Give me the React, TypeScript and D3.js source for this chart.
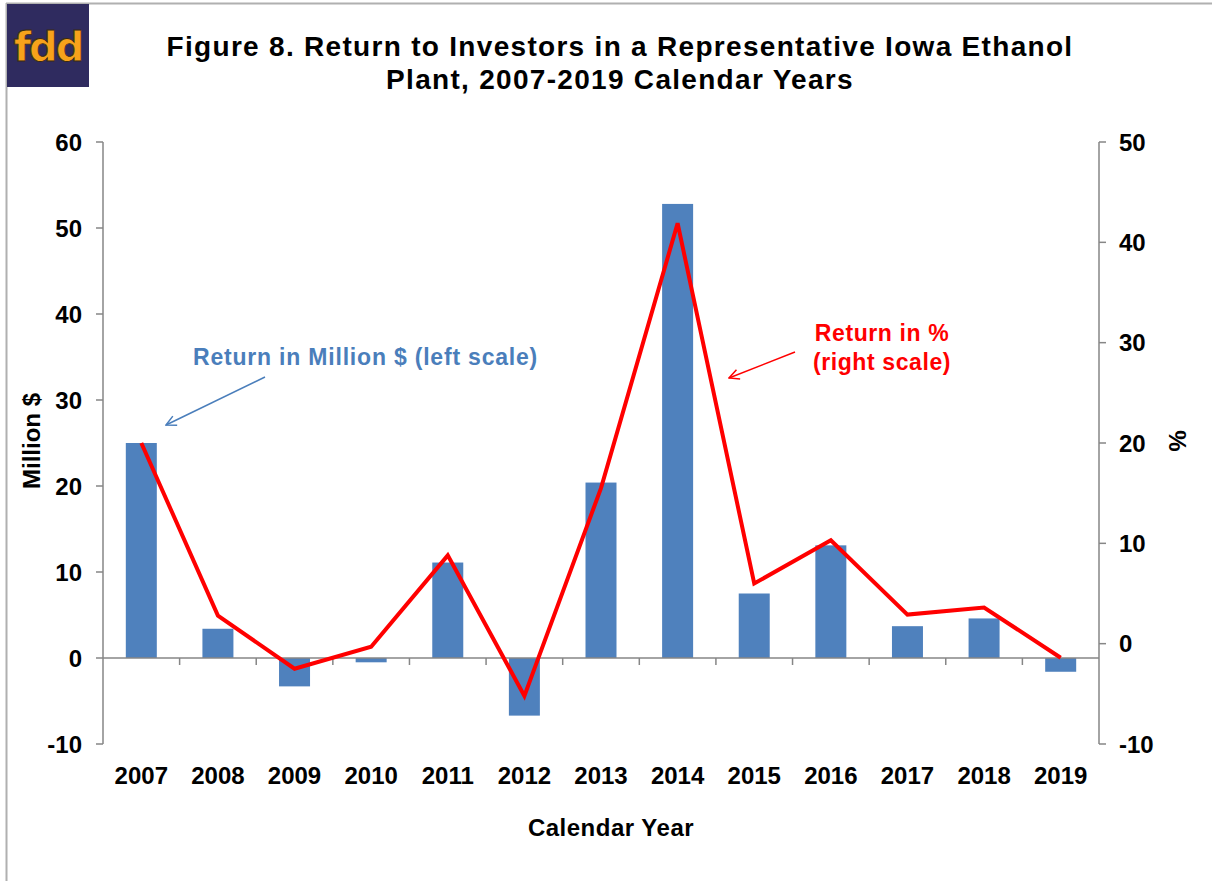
import React from "react";
import * as d3 from "d3";

const years = ["2007","2008","2009","2010","2011","2012","2013","2014","2015","2016","2017","2018","2019"];
const returnMillion = [25.0, 3.4, -3.3, -0.5, 11.1, -6.7, 20.4, 52.8, 7.5, 13.1, 3.7, 4.6, -1.6];
const returnPct = [20.0, 2.8, -2.5, -0.3, 8.8, -5.2, 15.5, 41.9, 6.0, 10.3, 2.9, 3.6, -1.4];
const leftTicks = [-10, 0, 10, 20, 30, 40, 50, 60];
const rightTicks = [-10, 0, 10, 20, 30, 40, 50];

const W = 1212, H = 881;
const plotL = 103, plotR = 1099, plotT = 142, plotB = 744;
const FONT = "'Liberation Sans', Arial, sans-serif";
const axisColor = "#868686";

export default function App() {
  const xb = d3.scaleBand<string>().domain(years).range([plotL, plotR]);
  const yL = d3.scaleLinear().domain([-10, 60]).range([plotB, plotT]);
  const yR = d3.scaleLinear().domain([-10, 50]).range([plotB, plotT]);
  const cx = (yr: string) => (xb(yr) as number) + xb.bandwidth() / 2;
  const line = d3.line<number>()
    .x((_, i) => cx(years[i]))
    .y((d) => yR(d));
  const boundaries = years.slice(1).map((y) => xb(y) as number);
  const bw = 31;

  return (
    <svg width={W} height={H} style={{ position: "absolute", left: 0, top: 0, background: "#fff" }} fontFamily={FONT}>
      <defs>
        <marker id="arrB" viewBox="0 0 12 12" refX="11" refY="6" markerWidth="12" markerHeight="12" markerUnits="userSpaceOnUse" orient="auto">
          <path d="M1,1 L11,6 L1,11" fill="none" stroke="#4a7ebb" strokeWidth="1.5" />
        </marker>
        <marker id="arrR" viewBox="0 0 12 12" refX="11" refY="6" markerWidth="12" markerHeight="12" markerUnits="userSpaceOnUse" orient="auto">
          <path d="M1,1 L11,6 L1,11" fill="none" stroke="#ff0000" strokeWidth="1.5" />
        </marker>
      </defs>
      <rect x={0} y={0} width={W} height={H} fill="#fff" />
      {/* border */}
      <line x1={6} y1={3.5} x2={W} y2={3.5} stroke="#b0b0b0" strokeWidth={2} />
      <line x1={6.5} y1={3} x2={6.5} y2={H} stroke="#b0b0b0" strokeWidth={2} />
      {/* logo */}
      <rect x={7} y={4} width={82} height={83} fill="#2f2b5f" />
      <text x={48} y={61} textAnchor="middle" fontFamily="'DejaVu Sans', sans-serif" fontWeight="bold" fontSize={40}
        fill="#f7a21b" stroke="#3a2a10" strokeWidth={0.8} letterSpacing={-2}>fdd</text>
      {/* title */}
      <text x={620} y={56} textAnchor="middle" fontWeight="bold" fontSize={28} letterSpacing={1.3} fill="#000">Figure 8. Return to Investors in a Representative Iowa Ethanol</text>
      <text x={620} y={89} textAnchor="middle" fontWeight="bold" fontSize={28} letterSpacing={1.3} fill="#000">Plant, 2007-2019 Calendar Years</text>

      {/* bars */}
      {years.map((yr, i) => {
        const v = returnMillion[i];
        const y0 = yL(0), y1 = yL(v);
        return <rect key={yr} x={cx(yr) - bw / 2} y={Math.min(y0, y1)} width={bw} height={Math.abs(y1 - y0)} fill="#4f81bd" />;
      })}

      {/* left axis */}
      <line x1={plotL} y1={plotT} x2={plotL} y2={plotB} stroke={axisColor} strokeWidth={1.5} />
      {leftTicks.map((t) => (
        <g key={"l" + t}>
          <line x1={plotL - 7} x2={plotL} y1={yL(t)} y2={yL(t)} stroke={axisColor} strokeWidth={1.5} />
          <text x={82} y={yL(t) + 8.5} textAnchor="end" fontWeight="bold" fontSize={24} fill="#000">{t}</text>
        </g>
      ))}
      {/* right axis */}
      <line x1={plotR} y1={plotT} x2={plotR} y2={plotB} stroke={axisColor} strokeWidth={1.5} />
      {rightTicks.map((t) => (
        <g key={"r" + t}>
          <line x1={plotR} x2={plotR + 7} y1={yR(t)} y2={yR(t)} stroke={axisColor} strokeWidth={1.5} />
          <text x={1119} y={yR(t) + 8.5} textAnchor="start" fontWeight="bold" fontSize={24} fill="#000">{t}</text>
        </g>
      ))}
      {/* x axis at zero */}
      <line x1={plotL} x2={plotR} y1={yL(0)} y2={yL(0)} stroke={axisColor} strokeWidth={1.5} />
      {boundaries.map((b, i) => (
        <line key={"b" + i} x1={b} x2={b} y1={yL(0)} y2={yL(0) + 7} stroke={axisColor} strokeWidth={1.5} />
      ))}
      {years.map((yr) => (
        <text key={"x" + yr} x={cx(yr)} y={784} textAnchor="middle" fontWeight="bold" fontSize={24} fill="#000">{yr}</text>
      ))}

      {/* line */}
      <path d={line(returnPct) || ""} fill="none" stroke="#ff0000" strokeWidth={4} strokeLinejoin="miter" />

      {/* axis titles */}
      <text transform="translate(40,441) rotate(-90)" textAnchor="middle" fontWeight="bold" fontSize={24} fill="#000">Million $</text>
      <text transform="translate(1169,441) rotate(90)" textAnchor="middle" fontWeight="bold" fontSize={24} fill="#000">%</text>
      <text x={611} y={836} textAnchor="middle" fontWeight="bold" fontSize={24} letterSpacing={0.5} fill="#000">Calendar Year</text>

      {/* annotations */}
      <text x={193} y={365} fontWeight="bold" fontSize={23} letterSpacing={0.8} fill="#4a7ebb">Return in Million $ (left scale)</text>
      <line x1={265} y1={377} x2={166} y2={425} stroke="#4a7ebb" strokeWidth={1.5} markerEnd="url(#arrB)" />
      <text x={882} y={341} textAnchor="middle" fontWeight="bold" fontSize={23} letterSpacing={0.6} fill="#ff0000">Return in %</text>
      <text x={882} y={370} textAnchor="middle" fontWeight="bold" fontSize={23} letterSpacing={0.6} fill="#ff0000">(right scale)</text>
      <line x1={795} y1={352} x2={729} y2={378} stroke="#ff0000" strokeWidth={1.5} markerEnd="url(#arrR)" />
    </svg>
  );
}
